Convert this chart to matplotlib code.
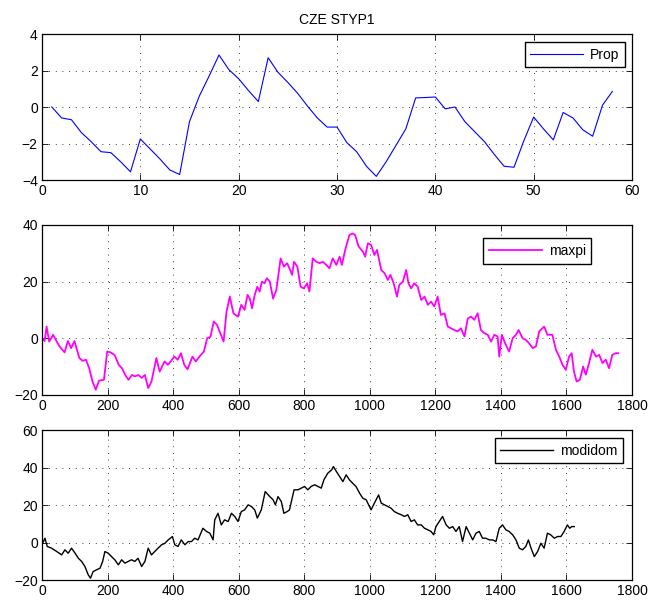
import matplotlib
matplotlib.use("Agg")
import matplotlib.pyplot as plt

plt.rcParams['font.family'] = ['Liberation Sans', 'DejaVu Sans']

title = "CZE STYP1"

# --- Panel 1: Prop (observations 1..58)
prop_x = list(range(1, 59))
prop_y = [0.0, -0.6, -0.7, -1.4, -1.9, -2.45, -2.5, -3.0, -3.55, -1.75,
          -2.3, -2.85, -3.45, -3.7, -0.8, 0.6, 1.7, 2.85, 2.05, 1.55,
          0.9, 0.3, 2.7, 1.9, 1.35, 0.75, 0.05, -0.6, -1.1, -1.1,
          -1.95, -2.45, -3.25, -3.8, -3.0, -2.1, -1.2, 0.5, 0.52, 0.55,
          -0.1, 0.0, -0.8, -1.35, -1.9, -2.6, -3.25, -3.3, -1.85, -0.55,
          -1.2, -1.8, -0.3, -0.6, -1.25, -1.6, 0.1, 0.85]

# --- Panel 2: maxpi
maxpi_x = [1, 8, 14, 22, 34, 44, 54, 69, 79, 89, 99, 114, 124, 134, 144, 154,
           164, 174, 189, 199, 209, 222, 234, 244, 254, 264, 274, 284, 294, 304,
           314, 324, 334, 349, 359, 374, 384, 394, 404, 414, 424, 434, 444, 459,
           469, 484, 494, 504, 514, 524, 534, 544, 554, 563, 573, 584,
           598, 608, 618, 627, 634, 641, 649, 657, 664, 671, 679, 686, 695, 705,
           715, 728, 738, 748, 755, 763, 769, 779, 789, 799, 809, 816, 826, 837,
           847, 857, 867, 877, 887, 898, 908, 915, 925, 938, 948, 955, 966, 979,
           986, 994, 1004, 1014, 1022, 1035, 1045, 1055, 1063, 1073, 1083, 1090,
           1101, 1111, 1118, 1126, 1136, 1146, 1157, 1167, 1177, 1187,
           1197, 1207, 1217, 1228, 1238, 1248, 1258, 1268, 1278, 1289, 1299,
           1309, 1319, 1329, 1339, 1349, 1360, 1370, 1380, 1390, 1395, 1403,
           1413, 1425, 1436, 1446, 1454, 1466, 1476, 1486, 1497, 1507, 1517,
           1532, 1542, 1557, 1568, 1578, 1588, 1598, 1608, 1616, 1623, 1631,
           1641, 1651, 1659, 1669, 1679, 1690, 1700, 1710, 1720, 1730, 1740,
           1750, 1758]
maxpi_y = [0.0, -1.0, 4.1, -1.2, 1.2, -1.0, -3.0, -5.0, -1.0, -3.5, -1.0, -7.0,
           -8.0, -7.6, -10.6, -15.3, -18.2, -15.0, -14.7, -4.7, -5.0, -6.0, -9.4,
           -10.6, -13.0, -14.7, -13.0, -13.5, -13.0, -14.0, -13.0, -17.6, -15.3,
           -7.0, -11.8, -8.2, -9.4, -8.0, -6.5, -7.6, -5.3, -9.4, -11.0, -6.5,
           -8.2, -6.0, -4.7, 0.0, 0.5, 5.9, 4.7, 1.8, -1.2, 9.4, 14.7, 8.8,
           7.6, 11.8, 10.0, 15.3, 14.0, 10.6, 15.3, 18.2, 16.5, 20.0, 19.4, 21.2,
           20.0, 14.0, 17.0, 28.2, 25.3, 26.5, 24.7, 22.4, 27.0, 25.3, 18.2, 17.6,
           19.4, 16.5, 28.2, 27.0, 26.5, 27.0, 25.9, 24.7, 28.2, 25.9, 28.8, 25.9,
           31.2, 36.5, 37.0, 36.5, 32.4, 30.6, 28.8, 33.5, 33.0, 29.4, 31.2, 24.1,
           23.0, 20.6, 22.4, 19.4, 14.7, 18.8, 20.0, 24.1, 19.4, 17.6, 19.4, 18.2,
           13.5, 14.7, 11.8, 12.9,
           11.2, 14.7, 8.2, 8.8, 4.1, 3.5, 2.9, 2.4, 3.5, 0.6, 7.0, 7.6, 6.5,
           8.8, 2.9, 1.8, 1.2, -1.2, 1.2, 0.6, -6.5, 1.2, -1.8, -4.7, 0.0, 1.2,
           2.9, 0.0, -0.6, -1.8, -3.5, -2.9, 2.4, 4.1, 1.2, 1.2, -4.1, -6.5,
           -9.4, -11.2, -6.5, -5.3, -11.8, -15.3, -14.7, -10.0, -12.9, -8.8,
           -4.1, -6.5, -5.9, -8.8, -7.6, -10.6, -5.9, -5.3, -5.3]

# --- Panel 3: modidom
modidom_x = [2, 9, 16, 29, 45, 60, 70, 80, 90, 101, 111, 121, 131, 141, 148, 156,
             166, 177, 185, 192, 202, 212, 222, 233, 243, 253, 263, 273, 283, 293,
             304, 314, 324, 334, 344, 354, 365, 375, 385, 398, 405, 415, 425, 436,
             446, 456, 466, 476, 491, 502, 512, 522, 527, 537, 547, 557, 568, 578,
             588, 598, 608, 618, 629, 639, 649, 657, 669, 681, 695, 705, 712, 720,
             730, 738, 748, 755, 769, 781, 791, 801, 811, 821, 832, 842, 852, 860,
             872, 884, 889, 898, 908, 918, 928, 938, 948, 958, 969, 979, 989, 999,
             1004, 1014, 1027, 1035, 1045, 1055, 1065, 1075, 1085, 1096, 1106,
             1116, 1126, 1136, 1146, 1157, 1167, 1177, 1187, 1195,
             1202, 1212, 1222, 1233, 1243, 1253, 1263, 1273, 1283, 1294, 1304,
             1314, 1324, 1334, 1344, 1354, 1365, 1375, 1385, 1395, 1405, 1415,
             1425, 1436, 1446, 1456, 1466, 1476, 1484, 1492, 1502, 1512, 1522,
             1532, 1542, 1552, 1563, 1573, 1583, 1593, 1603, 1610, 1616, 1624]
modidom_y = [-0.4, 2.3, -2.1, -3.0, -4.8, -6.6, -3.9, -5.7, -3.0, -5.7, -8.4,
             -10.1, -12.8, -17.2, -19.0, -15.5, -14.6, -13.7, -10.1, -4.8, -5.7,
             -7.5, -9.2, -11.9, -9.2, -11.0, -10.1, -9.2, -10.1, -8.4, -12.8,
             -10.1, -3.0, -6.6, -4.8, -3.0, -1.2, -0.4, 1.4, 3.2, -1.2, -2.1, 1.4,
             -1.2, 0.5, 0.5, 2.3, 1.4, 7.6, 5.9, 5.0, 1.4, 12.1, 15.6, 9.4, 12.1,
             11.2, 15.6, 13.9, 11.2, 16.5, 17.4, 20.1, 19.2, 17.4, 13.0, 17.4,
             27.2, 24.5, 22.8, 20.1, 24.5, 21.9, 15.6, 16.5, 17.4, 28.1, 28.1,
             29.0, 29.9, 28.1, 29.9, 30.8, 29.9, 29.0, 33.4, 37.0, 38.8, 40.5,
             37.9, 35.2, 32.5, 36.1, 33.4, 31.6, 29.9, 26.3, 23.6, 22.8, 19.2,
             17.4, 21.0, 25.4, 21.0, 20.1, 19.2, 18.3, 16.5, 15.6, 14.8, 13.9,
             14.8, 11.2, 12.1, 9.4, 9.4, 7.6, 6.8, 5.9, 4.1,
             8.5, 11.2, 13.9, 9.4, 7.6, 8.5, 5.9, 8.5, 0.5, 8.5, 5.0, 1.4, 5.0,
             5.9, 2.3, 2.3, 1.4, 1.4, 0.5, 7.6, 9.4, 6.8, 5.9, 4.1, 1.4, -3.0,
             -3.9, -2.1, 1.4, -3.0, -7.5, -4.8, -0.4, -3.0, 5.0, 4.1, 2.3, 3.2,
             3.2, 5.9, 9.4, 7.6, 8.5, 8.5]

fig = plt.figure(figsize=(6.48, 6.0), dpi=100)

def style(ax, xlim, ylim, xticks, yticks):
    ax.set_xlim(*xlim)
    ax.set_ylim(*ylim)
    ax.set_xticks(xticks)
    ax.set_yticks(yticks)
    ax.tick_params(direction='in', top=True, right=True, labelsize=10,
                   length=4, width=0.6, pad=3)
    ax.grid(True, linestyle=(0, (1, 7)), color='black', linewidth=0.6)
    for s in ax.spines.values():
        s.set_linewidth(0.9)

def legend(ax, x1, ytop):
    lg = ax.legend(loc='upper right', bbox_to_anchor=(x1, ytop), borderaxespad=0,
                   fancybox=False, framealpha=1, edgecolor='black', fontsize=10,
                   handlelength=3.8, borderpad=0.4, handletextpad=0.5)
    lg.get_frame().set_linewidth(1.0)

ax1 = fig.add_axes([0.0648, 0.700, 0.9105, 0.2433])
ax1.plot(prop_x, prop_y, color='#0000FF', linewidth=0.8, label='Prop')
style(ax1, (0, 60), (-4, 4), range(0, 61, 10), range(-4, 5, 2))
ax1.set_title(title, fontsize=10, pad=7)
legend(ax1, 0.988, 0.945)

ax2 = fig.add_axes([0.0648, 0.342, 0.9105, 0.283])
ax2.plot(maxpi_x, maxpi_y, color='#FF00FF', linewidth=1.3, label='maxpi')
style(ax2, (0, 1800), (-20, 40), range(0, 1801, 200), range(-20, 41, 20))
legend(ax2, 0.931, 0.921)

ax3 = fig.add_axes([0.0648, 0.0333, 0.9105, 0.25])
ax3.plot(modidom_x, modidom_y, color='black', linewidth=1.0, label='modidom')
style(ax3, (0, 1800), (-20, 60), range(0, 1801, 200), range(-20, 61, 20))
legend(ax3, 0.985, 0.947)

fig.savefig('out.png', dpi=100)
